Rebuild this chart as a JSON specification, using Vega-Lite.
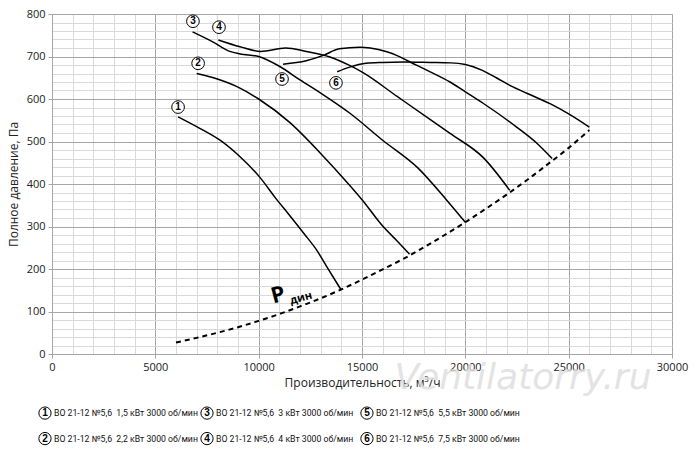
{
  "$schema": "https://vega.github.io/schema/vega-lite/v6.json",
  "width": 620,
  "height": 340,
  "autosize": {"type": "none"},
  "padding": {"left": 52, "top": 14, "right": 28, "bottom": 103},
  "background": "white",
  "config": {
    "view": {"stroke": "#a6a6a6", "strokeWidth": 1},
    "font": "Open Sans"
  },
  "datasets": {
    "curves": [
      {"c": "1", "q": 6100, "p": 558}, {"c": "1", "q": 7150, "p": 531}, {"c": "1", "q": 8130, "p": 503},
      {"c": "1", "q": 9100, "p": 464}, {"c": "1", "q": 10070, "p": 415}, {"c": "1", "q": 10800, "p": 368},
      {"c": "1", "q": 11500, "p": 326}, {"c": "1", "q": 12200, "p": 283}, {"c": "1", "q": 12800, "p": 245},
      {"c": "1", "q": 13300, "p": 205}, {"c": "1", "q": 14000, "p": 150},
      {"c": "2", "q": 7000, "p": 660}, {"c": "2", "q": 8000, "p": 647}, {"c": "2", "q": 9000, "p": 628},
      {"c": "2", "q": 10000, "p": 600}, {"c": "2", "q": 11500, "p": 545}, {"c": "2", "q": 13000, "p": 472},
      {"c": "2", "q": 14400, "p": 397}, {"c": "2", "q": 15050, "p": 360}, {"c": "2", "q": 16000, "p": 301},
      {"c": "2", "q": 16700, "p": 266}, {"c": "2", "q": 17300, "p": 235},
      {"c": "3", "q": 6800, "p": 758}, {"c": "3", "q": 7800, "p": 734}, {"c": "3", "q": 8600, "p": 712},
      {"c": "3", "q": 9100, "p": 706}, {"c": "3", "q": 10000, "p": 700}, {"c": "3", "q": 11000, "p": 677},
      {"c": "3", "q": 12000, "p": 645}, {"c": "3", "q": 13000, "p": 614}, {"c": "3", "q": 14400, "p": 567},
      {"c": "3", "q": 16000, "p": 503}, {"c": "3", "q": 17700, "p": 438}, {"c": "3", "q": 19100, "p": 362},
      {"c": "3", "q": 20000, "p": 310},
      {"c": "4", "q": 8050, "p": 739}, {"c": "4", "q": 9100, "p": 723}, {"c": "4", "q": 10100, "p": 712},
      {"c": "4", "q": 11300, "p": 720}, {"c": "4", "q": 12300, "p": 712}, {"c": "4", "q": 13450, "p": 699},
      {"c": "4", "q": 14400, "p": 679}, {"c": "4", "q": 15050, "p": 662}, {"c": "4", "q": 16700, "p": 606},
      {"c": "4", "q": 18290, "p": 552}, {"c": "4", "q": 19260, "p": 519}, {"c": "4", "q": 20870, "p": 462},
      {"c": "4", "q": 22150, "p": 385},
      {"c": "5", "q": 11180, "p": 682}, {"c": "5", "q": 12300, "p": 690}, {"c": "5", "q": 13100, "p": 702},
      {"c": "5", "q": 13900, "p": 718}, {"c": "5", "q": 14900, "p": 722}, {"c": "5", "q": 15400, "p": 720},
      {"c": "5", "q": 16200, "p": 711}, {"c": "5", "q": 16700, "p": 702}, {"c": "5", "q": 17200, "p": 690},
      {"c": "5", "q": 18300, "p": 664}, {"c": "5", "q": 19260, "p": 640}, {"c": "5", "q": 20000, "p": 617},
      {"c": "5", "q": 20860, "p": 590}, {"c": "5", "q": 22480, "p": 534}, {"c": "5", "q": 23460, "p": 496},
      {"c": "5", "q": 24200, "p": 460},
      {"c": "6", "q": 13800, "p": 664}, {"c": "6", "q": 14400, "p": 675}, {"c": "6", "q": 15200, "p": 684},
      {"c": "6", "q": 16000, "p": 686}, {"c": "6", "q": 17000, "p": 687}, {"c": "6", "q": 18300, "p": 686},
      {"c": "6", "q": 19300, "p": 685}, {"c": "6", "q": 20000, "p": 681}, {"c": "6", "q": 20800, "p": 668},
      {"c": "6", "q": 21500, "p": 650}, {"c": "6", "q": 22200, "p": 631}, {"c": "6", "q": 23000, "p": 613},
      {"c": "6", "q": 24100, "p": 589}, {"c": "6", "q": 25000, "p": 565}, {"c": "6", "q": 26000, "p": 534}
    ],
    "pdyn": [
      {"q": 6000, "p": 27}, {"q": 7000, "p": 38}, {"q": 8000, "p": 50}, {"q": 9000, "p": 63},
      {"q": 10000, "p": 78}, {"q": 11000, "p": 94}, {"q": 12000, "p": 112}, {"q": 13000, "p": 131},
      {"q": 14000, "p": 152}, {"q": 15000, "p": 175}, {"q": 16000, "p": 199}, {"q": 17000, "p": 224},
      {"q": 18000, "p": 251}, {"q": 19000, "p": 280}, {"q": 20000, "p": 310}, {"q": 21000, "p": 342},
      {"q": 22000, "p": 375}, {"q": 23000, "p": 410}, {"q": 24000, "p": 447}, {"q": 25000, "p": 485},
      {"q": 26000, "p": 527}
    ],
    "tags": [
      {"n": "1", "q": 6100, "p": 581}, {"n": "2", "q": 7070, "p": 684}, {"n": "3", "q": 6820, "p": 783},
      {"n": "4", "q": 8080, "p": 769}, {"n": "5", "q": 11130, "p": 647}, {"n": "6", "q": 13740, "p": 638}
    ],
    "legend": [
      {"n": "1", "q": -340, "p": -139, "t": "ВО 21-12 №5,6\u00a0 1,5 кВт 3000 об/мин"},
      {"n": "2", "q": -340, "p": -199, "t": "ВО 21-12 №5,6\u00a0 2,2 кВт 3000 об/мин"},
      {"n": "3", "q": 7500, "p": -139, "t": "ВО 21-12 №5,6\u00a0 3 кВт 3000 об/мин"},
      {"n": "4", "q": 7500, "p": -199, "t": "ВО 21-12 №5,6\u00a0 4 кВт 3000 об/мин"},
      {"n": "5", "q": 15240, "p": -139, "t": "ВО 21-12 №5,6\u00a0 5,5 кВт 3000 об/мин"},
      {"n": "6", "q": 15240, "p": -199, "t": "ВО 21-12 №5,6\u00a0 7,5 кВт 3000 об/мин"}
    ],
    "pdin": [
      {"t": "P", "q": 10937, "p": 139},
      {"t": "дин", "q": 12050, "p": 131}
    ],
    "mark": [
      {"t": "Ventilatorry.ru", "q": 22790, "p": -56}
    ]
  },
  "encoding": {
    "x": {
      "field": "q",
      "type": "quantitative",
      "scale": {"domain": [0, 30000], "nice": false, "zero": false},
      "axis": {
        "title": "Производительность, м³/ч",
        "values": [0, 1000, 2000, 3000, 4000, 5000, 6000, 7000, 8000, 9000, 10000, 11000, 12000, 13000, 14000, 15000, 16000, 17000, 18000, 19000, 20000, 21000, 22000, 23000, 24000, 25000, 26000, 27000, 28000, 29000, 30000],
        "format": "d",
        "labelExpr": "datum.value % 5000 === 0 ? datum.label : ''",
        "labelOverlap": false,
        "labelFlush": false,
        "labelFontSize": 11,
        "labelColor": "#222222",
        "labelPadding": 3,
        "titleFontSize": 12,
        "titleFontWeight": "normal",
        "titleColor": "#222222",
        "titlePadding": 5,
        "domainColor": "#a6a6a6",
        "tickSize": 4,
        "tickColor": {"condition": {"test": "datum.value % 5000 === 0", "value": "#a6a6a6"}, "value": "transparent"},
        "gridColor": {"condition": {"test": "datum.value % 5000 === 0", "value": "#a6a6a6"}, "value": "#d9d9d9"},
        "gridOpacity": 1
      }
    },
    "y": {
      "field": "p",
      "type": "quantitative",
      "scale": {"domain": [0, 800], "nice": false, "zero": false},
      "axis": {
        "title": "Полное давление, Па",
        "values": [0, 20, 40, 60, 80, 100, 120, 140, 160, 180, 200, 220, 240, 260, 280, 300, 320, 340, 360, 380, 400, 420, 440, 460, 480, 500, 520, 540, 560, 580, 600, 620, 640, 660, 680, 700, 720, 740, 760, 780, 800],
        "format": "d",
        "labelExpr": "datum.value % 100 === 0 ? datum.label : ''",
        "labelOverlap": false,
        "labelFlush": false,
        "labelFontSize": 11,
        "labelColor": "#222222",
        "labelPadding": 3,
        "titleFontSize": 12,
        "titleFontWeight": "normal",
        "titleColor": "#222222",
        "titlePadding": 6,
        "domainColor": "#a6a6a6",
        "tickSize": 4,
        "tickColor": {"condition": {"test": "datum.value % 100 === 0", "value": "#a6a6a6"}, "value": "transparent"},
        "gridColor": {"condition": {"test": "datum.value % 100 === 0", "value": "#a6a6a6"}, "value": "#d9d9d9"},
        "gridOpacity": 1
      }
    }
  },
  "layer": [
    {
      "data": {"name": "curves"},
      "mark": {"type": "line", "interpolate": "monotone", "color": "black", "strokeWidth": 1.5},
      "encoding": {"detail": {"field": "c"}}
    },
    {
      "data": {"name": "pdyn"},
      "mark": {"type": "line", "interpolate": "monotone", "color": "black", "strokeWidth": 2, "strokeDash": [5, 4]},
      "encoding": {}
    },
    {
      "data": {"name": "tags"},
      "mark": {"type": "point", "shape": "circle", "size": 160, "filled": true, "fill": "white", "stroke": "black", "strokeWidth": 1, "opacity": 1}
    },
    {
      "data": {"name": "tags"},
      "mark": {"type": "text", "fontSize": 10, "fontWeight": "bold", "font": "Liberation Sans", "color": "black", "baseline": "middle", "align": "center"},
      "encoding": {"text": {"field": "n"}}
    },
    {
      "data": {"name": "legend"},
      "mark": {"type": "point", "shape": "circle", "size": 150, "filled": true, "fill": "white", "stroke": "black", "strokeWidth": 1, "opacity": 1, "clip": false}
    },
    {
      "data": {"name": "legend"},
      "mark": {"type": "text", "fontSize": 10, "fontWeight": "bold", "font": "Liberation Sans", "color": "black", "baseline": "middle", "align": "center"},
      "encoding": {"text": {"field": "n"}}
    },
    {
      "data": {"name": "legend"},
      "mark": {"type": "text", "fontSize": 8.7, "font": "Liberation Sans Narrow, Roboto, Liberation Sans", "color": "#111111", "baseline": "middle", "align": "left", "dx": 9},
      "encoding": {"text": {"field": "t"}}
    },
    {
      "data": {"name": "pdin"},
      "mark": {"type": "text", "font": "Open Sans", "fontWeight": "bold", "color": "black", "baseline": "middle", "align": "center", "angle": 345},
      "encoding": {
        "text": {"field": "t"},
        "size": {"field": "t", "type": "nominal", "scale": {"domain": ["P", "дин"], "range": [22, 11]}, "legend": null}
      }
    },
    {
      "data": {"name": "mark"},
      "mark": {"type": "text", "font": "DejaVu Sans", "fontStyle": "italic", "fontSize": 36, "color": "#dddddd", "opacity": 0.8, "baseline": "middle", "align": "center"},
      "encoding": {"text": {"field": "t"}}
    }
  ]
}
